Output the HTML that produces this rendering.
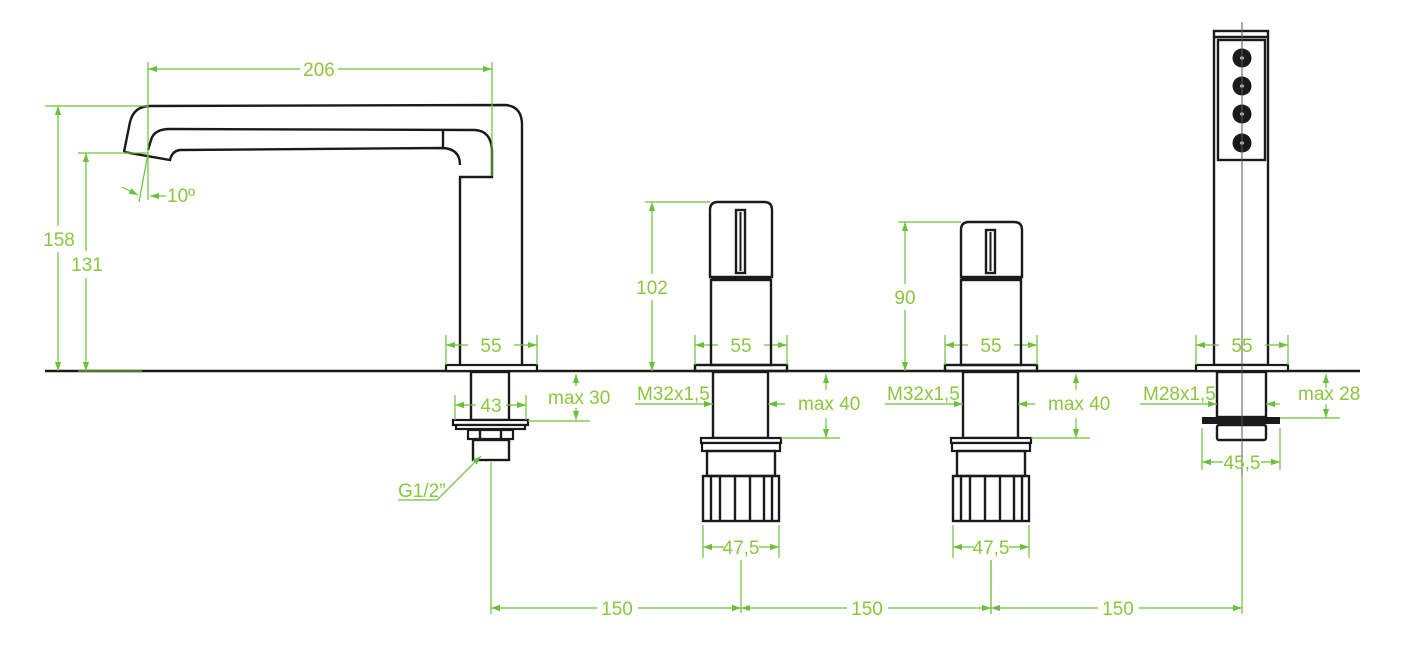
<!DOCTYPE html>
<html><head><meta charset="utf-8"><style>
html,body{margin:0;padding:0;background:#fff;}
svg{display:block;}
text{font-family:"Liberation Sans Narrow","Liberation Sans",sans-serif;fill:#8cc63f;font-size:19px;}
.g{stroke:#6cc03a;stroke-width:1.2;fill:none;}
.k{stroke:#1a1a1a;stroke-width:2.4;fill:none;}
.kf{stroke:#1a1a1a;stroke-width:2.2;fill:#fff;}
</style></head><body>
<svg width="1407" height="653" viewBox="0 0 1407 653" xmlns="http://www.w3.org/2000/svg">
<defs>
<marker id="a" viewBox="0 0 10 10" refX="10" refY="5" markerWidth="9" markerHeight="9" orient="auto-start-reverse" markerUnits="userSpaceOnUse"><path d="M0,1.5 L10,5 L0,8.5 z" fill="#6cc03a"/></marker>
</defs>
<line x1="45" y1="371" x2="1360" y2="371" class="k" stroke-width="2"/>
<line x1="78" y1="371" x2="142" y2="371" stroke="#4d7a2a" stroke-width="2.2"/>

<!-- SPOUT -->
<path class="k" d="M124,152 L130,122 Q134,106 150,106 L505,105 Q522,106 522,125 L522,365"/>
<path class="k" d="M148,150 L151,140 Q154,129 170,129 L475,130 Q491,131 492,150 L492,177 L460,177 L460,365"/>
<path class="k" d="M124,152 L170,160 Q172,151 180,150 L443,148 Q460,149 460,165"/>
<line class="k" x1="443" y1="130" x2="443" y2="148"/>
<rect class="kf" x="446" y="365" width="91" height="6"/>
<rect class="k" x="471" y="372" width="38" height="48"/>
<rect class="kf" x="453" y="420" width="75" height="5"/>
<rect class="kf" x="456" y="425" width="69" height="4"/>
<rect class="kf" x="468" y="430" width="45" height="9"/>
<line class="k" x1="480" y1="430" x2="480" y2="439"/><line class="k" x1="501" y1="430" x2="501" y2="439"/>
<rect class="k" x="473" y="440" width="36" height="20"/>

<line class="g" x1="148" y1="62" x2="148" y2="200"/>
<line class="g" x1="492" y1="62" x2="492" y2="176"/>
<line class="g" x1="148" y1="69" x2="300" y2="69" marker-start="url(#a)"/>
<line class="g" x1="338" y1="69" x2="492" y2="69" marker-end="url(#a)"/>
<text x="319" y="76" text-anchor="middle">206</text>
<line class="g" x1="45" y1="106" x2="148" y2="106"/>
<line class="g" x1="58" y1="106" x2="58" y2="226" marker-start="url(#a)"/>
<line class="g" x1="58" y1="252" x2="58" y2="371" marker-end="url(#a)"/>
<text x="59" y="246" text-anchor="middle">158</text>
<line class="g" x1="78" y1="153" x2="148" y2="153"/>
<line class="g" x1="86" y1="153" x2="86" y2="251" marker-start="url(#a)"/>
<line class="g" x1="86" y1="278" x2="86" y2="371" marker-end="url(#a)"/>
<text x="87" y="271" text-anchor="middle">131</text>
<line class="g" x1="148" y1="153" x2="139" y2="202"/>
<line class="g" x1="122" y1="187" x2="138" y2="195" marker-end="url(#a)"/>
<line class="g" x1="166" y1="196" x2="150" y2="196" marker-end="url(#a)"/>
<text x="167" y="202" font-size="17">10º</text>
<line class="g" x1="446" y1="335" x2="446" y2="365"/><line class="g" x1="537" y1="335" x2="537" y2="365"/>
<line class="g" x1="468" y1="345" x2="446" y2="345" marker-end="url(#a)"/>
<line class="g" x1="514" y1="345" x2="537" y2="345" marker-end="url(#a)"/>
<text x="491" y="352" text-anchor="middle">55</text>
<line class="g" x1="455" y1="395" x2="455" y2="420"/><line class="g" x1="526" y1="395" x2="526" y2="420"/>
<line class="g" x1="476" y1="405" x2="455" y2="405" marker-end="url(#a)"/>
<line class="g" x1="506" y1="405" x2="526" y2="405" marker-end="url(#a)"/>
<text x="491" y="412" text-anchor="middle">43</text>
<line class="g" x1="528" y1="421" x2="590" y2="421"/>
<line class="g" x1="576" y1="386" x2="576" y2="374" marker-end="url(#a)"/>
<line class="g" x1="576" y1="408" x2="576" y2="420" marker-end="url(#a)"/>
<text x="548" y="404">max 30</text>
<line class="g" x1="398" y1="500" x2="437" y2="500"/>
<line class="g" x1="437" y1="500" x2="481" y2="456" marker-end="url(#a)"/>
<text x="398" y="497">G1/2”</text>

<g id="h">
<rect class="k" x="695" y="365" width="92" height="6" fill="#fff"/>
<rect class="k" x="713" y="372" width="55" height="66"/>
<rect class="kf" x="701" y="438" width="80" height="5"/>
<rect class="kf" x="702" y="443" width="78" height="8"/>
<rect class="k" x="707" y="451" width="68" height="25"/>
<rect class="k" x="703" y="476" width="76" height="45"/>
<path class="k" stroke-width="1.6" d="M711,476V521M720,476V521M735,476V521M750,476V521M764,476V521M772,476V521"/>
<line class="g" x1="703" y1="525" x2="703" y2="558"/><line class="g" x1="779" y1="525" x2="779" y2="558"/>
<line class="g" x1="724" y1="547" x2="703" y2="547" marker-end="url(#a)"/>
<line class="g" x1="759" y1="547" x2="779" y2="547" marker-end="url(#a)"/>
<text x="741" y="554" text-anchor="middle">47,5</text>
<line class="g" x1="741" y1="560" x2="741" y2="613"/>
<line class="g" x1="695" y1="335" x2="695" y2="365"/><line class="g" x1="787" y1="335" x2="787" y2="365"/>
<line class="g" x1="718" y1="345" x2="695" y2="345" marker-end="url(#a)"/>
<line class="g" x1="764" y1="345" x2="787" y2="345" marker-end="url(#a)"/>
<text x="741" y="352" text-anchor="middle">55</text>
<line class="g" x1="635" y1="404" x2="713" y2="404" marker-end="url(#a)"/>
<line class="g" x1="785" y1="404" x2="768" y2="404" marker-end="url(#a)"/>
<text x="637" y="400">M32x1,5</text>
<line class="g" x1="781" y1="438" x2="840" y2="438"/>
<line class="g" x1="826" y1="390" x2="826" y2="374" marker-end="url(#a)"/>
<line class="g" x1="826" y1="418" x2="826" y2="438" marker-end="url(#a)"/>
<text x="798" y="410">max 40</text>
</g>
<rect class="k" x="711" y="280" width="60" height="85"/>
<path class="k" d="M710,277 L710,210 Q710,202 718,202 L764,202 Q772,202 772,210 L772,277 Z"/>
<rect x="711" y="277" width="60" height="3" fill="#1a1a1a"/>
<rect class="k" stroke-width="1.6" x="736" y="210" width="9" height="63"/>
<line x1="740.5" y1="212" x2="740.5" y2="271" stroke="#1a1a1a" stroke-width="2"/>
<line class="g" x1="645" y1="202" x2="710" y2="202"/>
<line class="g" x1="652" y1="202" x2="652" y2="274" marker-start="url(#a)"/>
<line class="g" x1="652" y1="300" x2="652" y2="371" marker-end="url(#a)"/>
<text x="652" y="294" text-anchor="middle">102</text>

<use href="#h" x="250"/>
<rect class="k" x="961" y="280" width="60" height="85"/>
<path class="k" d="M961,277 L961,230 Q961,222 969,222 L1014,222 Q1022,222 1022,230 L1022,277 Z"/>
<rect x="961" y="277" width="61" height="3" fill="#1a1a1a"/>
<rect class="k" stroke-width="1.6" x="986" y="230" width="9" height="43"/>
<line x1="990.5" y1="232" x2="990.5" y2="271" stroke="#1a1a1a" stroke-width="2"/>
<line class="g" x1="898" y1="222" x2="961" y2="222"/>
<line class="g" x1="905" y1="222" x2="905" y2="284" marker-start="url(#a)"/>
<line class="g" x1="905" y1="310" x2="905" y2="371" marker-end="url(#a)"/>
<text x="905" y="304" text-anchor="middle">90</text>

<!-- HAND SHOWER -->
<rect class="k" x="1214" y="31" width="54" height="334"/>
<line class="k" x1="1214" y1="37" x2="1268" y2="37" stroke-width="1.5"/>
<rect class="k" x="1218" y="40" width="47" height="120" stroke-width="2.8"/>
<g fill="#1a1a1a"><circle cx="1242" cy="58" r="9.5"/><circle cx="1242" cy="86" r="9.5"/><circle cx="1242" cy="114" r="9.5"/><circle cx="1242" cy="143" r="9.5"/></g>
<g fill="#ddd"><circle cx="1242" cy="58" r="1.8"/><circle cx="1242" cy="86" r="1.8"/><circle cx="1242" cy="114" r="1.8"/><circle cx="1242" cy="143" r="1.8"/></g>
<rect class="kf" x="1196" y="365" width="92" height="6"/>
<rect class="k" x="1217" y="372" width="49" height="45"/>
<rect x="1202" y="417" width="78" height="7" fill="#1a1a1a"/>
<rect class="k" x="1217" y="425" width="49" height="15" rx="2"/>
<line x1="1242" y1="22" x2="1242" y2="613" stroke="#555" stroke-width="1"/>
<line class="g" x1="1196" y1="335" x2="1196" y2="365"/><line class="g" x1="1288" y1="335" x2="1288" y2="365"/>
<line class="g" x1="1219" y1="345" x2="1196" y2="345" marker-end="url(#a)"/>
<line class="g" x1="1265" y1="345" x2="1288" y2="345" marker-end="url(#a)"/>
<text x="1242" y="352" text-anchor="middle">55</text>
<line class="g" x1="1140" y1="404" x2="1217" y2="404" marker-end="url(#a)"/>
<line class="g" x1="1280" y1="404" x2="1266" y2="404" marker-end="url(#a)"/>
<text x="1143" y="400">M28x1,5</text>
<line class="g" x1="1280" y1="418" x2="1340" y2="418"/>
<line class="g" x1="1326" y1="388" x2="1326" y2="374" marker-end="url(#a)"/>
<line class="g" x1="1326" y1="404" x2="1326" y2="418" marker-end="url(#a)"/>
<text x="1298" y="400">max 28</text>
<line class="g" x1="1202" y1="428" x2="1202" y2="470"/><line class="g" x1="1280" y1="428" x2="1280" y2="470"/>
<line class="g" x1="1223" y1="462" x2="1202" y2="462" marker-end="url(#a)"/>
<line class="g" x1="1261" y1="462" x2="1280" y2="462" marker-end="url(#a)"/>
<text x="1242" y="469" text-anchor="middle">45,5</text>

<line class="g" x1="491" y1="462" x2="491" y2="614"/>
<line class="g" x1="991" y1="560" x2="991" y2="614"/>
<line class="g" x1="1242" y1="476" x2="1242" y2="614"/>
<line class="g" x1="597" y1="608" x2="491" y2="608" marker-end="url(#a)"/>
<line class="g" x1="638" y1="608" x2="741" y2="608" marker-end="url(#a)"/>
<text x="617" y="615" text-anchor="middle">150</text>
<line class="g" x1="847" y1="608" x2="741" y2="608" marker-end="url(#a)"/>
<line class="g" x1="888" y1="608" x2="991" y2="608" marker-end="url(#a)"/>
<text x="867" y="615" text-anchor="middle">150</text>
<line class="g" x1="1098" y1="608" x2="991" y2="608" marker-end="url(#a)"/>
<line class="g" x1="1139" y1="608" x2="1242" y2="608" marker-end="url(#a)"/>
<text x="1118" y="615" text-anchor="middle">150</text>
</svg>
</body></html>
